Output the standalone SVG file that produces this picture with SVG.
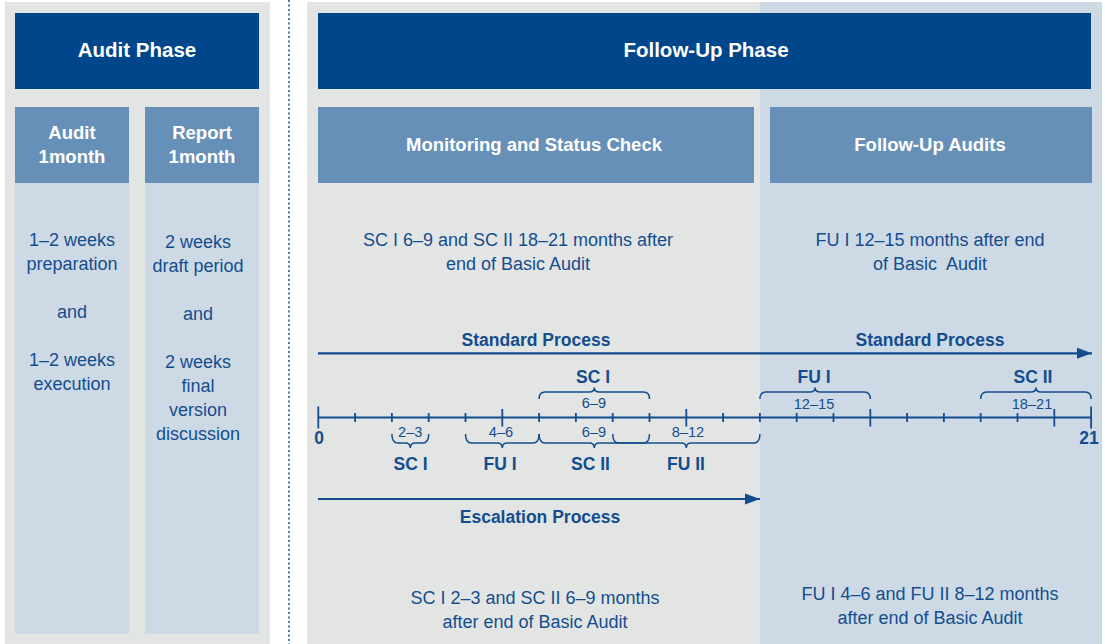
<svg xmlns="http://www.w3.org/2000/svg" width="1105" height="644" viewBox="0 0 1105 644">
<defs>
<style>
.gray{fill:#e3e5e5}
.lite{fill:#cddae6}
.dark{fill:#00468a}
.mid{fill:#6790b9}
.hd{font-family:"Liberation Sans",Arial,sans-serif;font-weight:bold;fill:#ffffff;text-anchor:middle}
.body{font-family:"Liberation Sans",Arial,sans-serif;font-size:18px;fill:#134d8e;text-anchor:middle}
.lbl{font-family:"Liberation Sans",Arial,sans-serif;font-size:17.5px;font-weight:bold;fill:#134d8e;text-anchor:middle}
.num{font-family:"Liberation Sans",Arial,sans-serif;font-size:14.6px;fill:#134d8e;text-anchor:middle}
.ln{stroke:#134d8e;fill:none}
</style>
<marker id="ah" markerUnits="userSpaceOnUse" markerWidth="16" markerHeight="12" refX="15" refY="6" orient="auto">
<path d="M0,0.5 L15,6 L0,11.5 Z" fill="#134d8e"/>
</marker>
</defs>

<!-- backgrounds -->
<g id="audit-panel">
<rect class="gray" x="5" y="2" width="265" height="642"/>
<rect class="lite" x="15" y="183" width="114" height="451"/>
<rect class="lite" x="145" y="183" width="114" height="451"/>
</g>
<line x1="289" y1="0" x2="289" y2="644" stroke="#134d8e" stroke-width="1.5" stroke-dasharray="2,2.5"/>
<g id="followup-panel">
<rect class="gray" x="307" y="2" width="453" height="642"/>
<rect class="lite" x="760" y="2" width="342" height="642"/>
</g>

<g id="audit-phase">
<rect class="dark" x="15" y="13" width="244" height="76"/>
<text class="hd" x="137" y="57" font-size="20.5">Audit Phase</text>
</g>
<g id="audit-month">
<rect class="mid" x="15" y="107" width="114" height="76"/>
<text class="hd" x="72" y="139" font-size="18.5">Audit</text>
<text class="hd" x="72" y="163" font-size="18.5">1month</text>
<text class="body" x="72" y="246">1–2 weeks</text>
<text class="body" x="72" y="270">preparation</text>
<text class="body" x="72" y="318">and</text>
<text class="body" x="72" y="366">1–2 weeks</text>
<text class="body" x="72" y="390">execution</text>
</g>
<g id="report-month">
<rect class="mid" x="145" y="107" width="114" height="76"/>
<text class="hd" x="202" y="139" font-size="18.5">Report</text>
<text class="hd" x="202" y="163" font-size="18.5">1month</text>
<text class="body" x="198" y="248">2 weeks</text>
<text class="body" x="198" y="272">draft period</text>
<text class="body" x="198" y="320">and</text>
<text class="body" x="198" y="368">2 weeks</text>
<text class="body" x="198" y="392">final</text>
<text class="body" x="198" y="416">version</text>
<text class="body" x="198" y="440">discussion</text>
</g>

<g id="followup-phase">
<rect class="dark" x="318" y="13" width="773" height="76"/>
<text class="hd" x="706" y="57" font-size="20.5">Follow-Up Phase</text>
</g>
<g id="monitoring">
<rect class="mid" x="318" y="107" width="436" height="76"/>
<text class="hd" x="534" y="151" font-size="18.5">Monitoring and Status Check</text>
<text class="body" x="518" y="246">SC I 6–9 and SC II 18–21 months after</text>
<text class="body" x="518" y="270">end of Basic Audit</text>
<text class="body" x="535" y="604">SC I 2–3 and SC II 6–9 months</text>
<text class="body" x="535" y="628">after end of Basic Audit</text>
</g>
<g id="followup-audits">
<rect class="mid" x="770" y="107" width="322" height="76"/>
<text class="hd" x="930" y="151" font-size="18.5">Follow-Up Audits</text>
<text class="body" x="930" y="246">FU I 12–15 months after end</text>
<text class="body" x="930" y="270" xml:space="preserve">of Basic  Audit</text>
<text class="body" x="930" y="600">FU I 4–6 and FU II 8–12 months</text>
<text class="body" x="930" y="624">after end of Basic Audit</text>
</g>

<g id="connectors">
<line class="ln" x1="318" y1="353.3" x2="1092" y2="353.3" stroke-width="2.2" marker-end="url(#ah)"/>
<line class="ln" x1="318" y1="499" x2="760" y2="499" stroke-width="2.2" marker-end="url(#ah)"/>
</g>
<g id="process-labels">
<text class="lbl" x="536" y="346">Standard Process</text>
<text class="lbl" x="930" y="346">Standard Process</text>
<text class="lbl" x="540" y="523">Escalation Process</text>
</g>

<g id="timeline">
<line class="ln" x1="318.3" y1="417.5" x2="1091.1" y2="417.5" stroke-width="2"/>
<g class="ln" stroke-width="1.8">
<path d="M318.3,406.5V428.5 M1091.1,406.5V428.5"/>
<path d="M502.3,409V426.5 M686.3,409V426.5 M870.3,409V426.5 M1054.3,409V426.5"/>
<path d="M355.1,413V422 M391.9,413V422 M428.7,413V422 M465.5,413V422 M539.1,413V422 M575.9,413V422 M612.7,413V422 M649.5,413V422 M723.1,413V422 M759.9,413V422 M796.7,413V422 M833.5,413V422 M907.1,413V422 M943.9,413V422 M980.7,413V422 M1017.5,413V422"/>
</g>
<text class="lbl" x="319" y="443.5" font-size="15">0</text>
<text class="lbl" x="1089" y="443.5" font-size="15">21</text>

<g class="ln" stroke-width="1.5">
<path d="M391.9,434 Q391.9,443 397.9,443 H405.3 Q410.3,443 410.3,448 Q410.3,443 415.3,443 H422.7 Q428.7,443 428.7,434"/>
<path d="M465.5,434 Q465.5,443 471.5,443 H497.3 Q502.3,443 502.3,448 Q502.3,443 507.3,443 H533.1 Q539.1,443 539.1,434"/>
<path d="M539.1,434 Q539.1,443 545.1,443 H589.3 Q594.3,443 594.3,448 Q594.3,443 599.3,443 H643.5 Q649.5,443 649.5,434"/>
<path d="M612.7,434 Q612.7,443 618.7,443 H681.3 Q686.3,443 686.3,448 Q686.3,443 691.3,443 H753.9 Q759.9,443 759.9,434"/>
<path d="M539.1,399 Q539.1,392 545.1,392 H589.3 Q594.3,392 594.3,387.5 Q594.3,392 599.3,392 H643.5 Q649.5,392 649.5,399"/>
<path d="M759.9,399 Q759.9,392 765.9,392 H810.1 Q815.1,392 815.1,387.5 Q815.1,392 820.1,392 H864.3 Q870.3,392 870.3,399"/>
<path d="M980.7,399 Q980.7,392 986.7,392 H1030.9 Q1035.9,392 1035.9,387.5 Q1035.9,392 1040.9,392 H1085.1 Q1091.1,392 1091.1,399"/>
</g>

<text class="num" x="410.3" y="437">2–3</text>
<text class="num" x="501" y="437">4–6</text>
<text class="num" x="594" y="437">6–9</text>
<text class="num" x="688" y="437">8–12</text>
<text class="num" x="594" y="408">6–9</text>
<text class="num" x="814" y="409">12–15</text>
<text class="num" x="1032" y="409">18–21</text>

<text class="lbl" x="410.5" y="469.5">SC I</text>
<text class="lbl" x="500" y="469.5">FU I</text>
<text class="lbl" x="590.5" y="469.5">SC II</text>
<text class="lbl" x="686" y="469.5">FU II</text>
<text class="lbl" x="593" y="383">SC I</text>
<text class="lbl" x="814" y="383">FU I</text>
<text class="lbl" x="1033" y="383">SC II</text>
</g>
</svg>
